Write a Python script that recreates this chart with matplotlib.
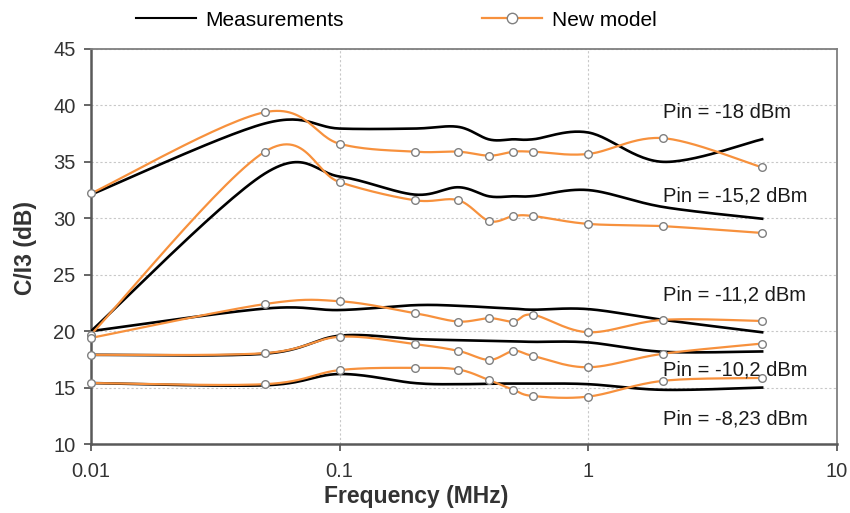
import numpy as np
import matplotlib
matplotlib.use("Agg")
import matplotlib.pyplot as plt
from matplotlib.lines import Line2D

plt.rcParams['font.family'] = ['Liberation Sans', 'DejaVu Sans']

# ---- data ----
freq = [0.01, 0.05, 0.1, 0.2, 0.3, 0.4, 0.5, 0.6, 1, 2, 5]

model_m18 = [32.2, 39.4, 36.6, 35.9, 35.9, 35.55, 35.9, 35.9, 35.7, 37.1, 34.5]
model_m15 = [19.7, 35.9, 33.2, 31.6, 31.6, 29.75, 30.2, 30.2, 29.5, 29.3, 28.7]
model_m11 = [19.4, 22.4, 22.65, 21.6, 20.85, 21.15, 20.85, 21.45, 19.9, 21.0, 20.9]
model_m10 = [17.9, 18.05, 19.5, 18.85, 18.25, 17.45, 18.25, 17.8, 16.8, 18.0, 18.9]
model_m8 = [15.4, 15.3, 16.55, 16.75, 16.6, 15.65, 14.8, 14.25, 14.2, 15.6, 15.85]

meas_m18 = [32.1, 38.4, 37.95, 37.95, 38.1, 36.98, 37.0, 37.0, 37.6, 35.0, 37.0]
meas_m15 = [20.0, 33.96, 33.7, 32.1, 32.75, 31.94, 31.95, 31.97, 32.5, 31.0, 29.96]
meas_m11 = [20.0, 22.0, 21.87, 22.3, 22.25, 22.1, 22.0, 21.9, 21.95, 21.0, 19.9]
meas_m10 = [17.9, 18.0, 19.6, 19.3, 19.2, 19.15, 19.1, 19.05, 19.0, 18.17, 18.2]
meas_m8 = [15.4, 15.2, 16.2, 15.4, 15.3, 15.35, 15.35, 15.35, 15.3, 14.8, 15.0]

labels = ["Pin = -18 dBm", "Pin = -15,2 dBm", "Pin = -11,2 dBm",
          "Pin = -10,2 dBm", "Pin = -8,23 dBm"]
label_y = [39.4, 32.0, 23.2, 16.6, 12.2]
label_x = 2.0

ORANGE = "#F7913D"


def smooth(xs, ys, n=30):
    """Excel-like smoothing: uniform Catmull-Rom (Bezier) in (log10 x, y)."""
    lx = np.log10(np.asarray(xs, float))
    y = np.asarray(ys, float)
    P = np.column_stack([lx, y])
    P = np.vstack([P[0], P, P[-1]])
    out = []
    t = np.linspace(0, 1, n)
    for i in range(1, len(P) - 2):
        p0, p1, p2, p3 = P[i - 1], P[i], P[i + 1], P[i + 2]
        c1 = p1 + (p2 - p0) / 6.0
        c2 = p2 - (p3 - p1) / 6.0
        b = ((1 - t) ** 3)[:, None] * p1 + (3 * (1 - t) ** 2 * t)[:, None] * c1 \
            + (3 * (1 - t) * t ** 2)[:, None] * c2 + (t ** 3)[:, None] * p2
        out.append(b if i == 1 else b[1:])
    B = np.vstack(out)
    return 10 ** B[:, 0], B[:, 1]


fig = plt.figure(figsize=(8.5, 5.13), dpi=100)
ax = fig.add_axes([91 / 850, 1 - 444 / 513, (837 - 91) / 850, (444 - 49) / 513])

meas = [meas_m18, meas_m15, meas_m11, meas_m10, meas_m8]
models = [model_m18, model_m15, model_m11, model_m10, model_m8]

for my in meas:
    sx, sy = smooth(freq, my)
    ax.plot(sx, sy, color="black", lw=1.9, zorder=3)
for my in models:
    sx, sy = smooth(freq, my)
    ax.plot(sx, sy, color=ORANGE, lw=1.6, zorder=4)
    ax.plot(freq, my, ls="none", marker="o", ms=5.5, mfc="white",
            mec="#808080", mew=1.0, zorder=5, clip_on=False)

for lab, ly in zip(labels, label_y):
    ax.text(label_x, ly, lab, fontsize=14.5, color="#1a1a1a", va="center", ha="left", zorder=6)

ax.set_xscale("log")
ax.set_xlim(0.01, 10)
ax.set_ylim(10, 45)
ax.set_yticks(range(10, 46, 5))
ax.set_xticks([0.01, 0.1, 1, 10])
ax.set_xticklabels(["0.01", "0.1", "1", "10"])
ax.xaxis.set_minor_locator(matplotlib.ticker.NullLocator())
ax.grid(True, which="major", color="#C8C8C8", ls=(0, (2, 2)), lw=0.8)
ax.set_axisbelow(True)
for s in ax.spines.values():
    s.set_color("#7F7F7F")
    s.set_linewidth(1.3)
ax.spines["left"].set_color("#595959")
ax.spines["left"].set_linewidth(1.8)
ax.spines["bottom"].set_color("#595959")
ax.spines["bottom"].set_linewidth(1.8)
ax.tick_params(axis="both", direction="out", length=5, width=1.3, color="#595959",
               labelsize=14.5, labelcolor="#333333")
ax.tick_params(axis="x", pad=8)
ax.tick_params(axis="y", pad=6)
ax.set_xlabel("Frequency (MHz)", fontsize=16.5, fontweight="bold", color="#333333", va="center")
ax.set_ylabel("C/I3 (dB)", fontsize=16.5, fontweight="bold", color="#333333", va="center")
ax.xaxis.set_label_coords(0.436, -0.134)
ax.yaxis.set_label_coords(-0.088, 0.496)

handles = [Line2D([], [], color="black", lw=1.5),
           Line2D([], [], color=ORANGE, lw=1.6, marker="o", ms=7.5, mfc="white",
                  mec="#808080", mew=1.0)]
fig.legend(handles, ["Measurements", "New model"], loc="center",
           bbox_to_anchor=(0.466, 0.961), ncol=2, frameon=False, fontsize=15,
           handlelength=2.9, columnspacing=6.6, handletextpad=0.45)

fig.savefig("out.png", dpi=100)
